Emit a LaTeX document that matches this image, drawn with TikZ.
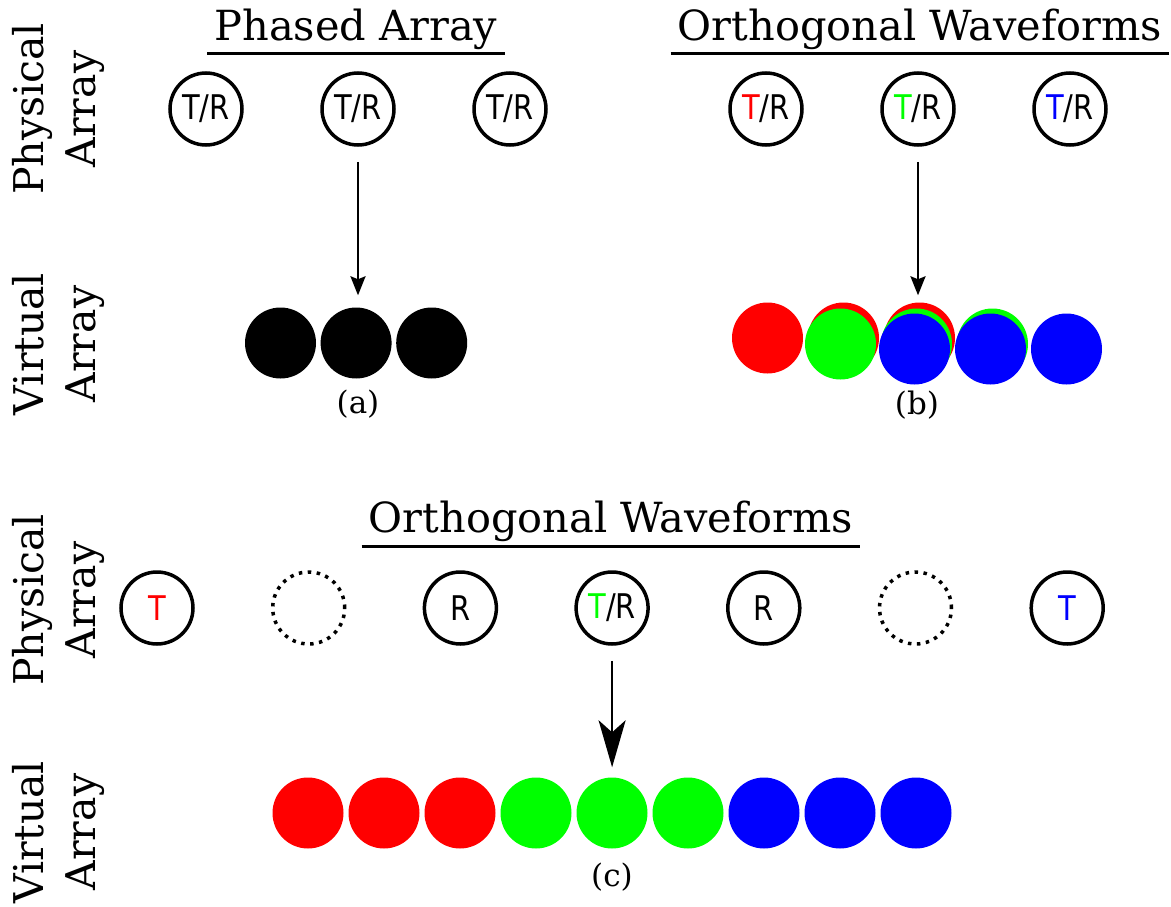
\documentclass[tikz,border=0pt]{standalone}
\usepackage{fontspec}
\setmainfont{DejaVu Serif}
\newfontfamily\elemfont[FakeStretch=0.85]{DejaVu Sans}
\usepackage{tikz}
\usetikzlibrary{arrows.meta, positioning, calc}

\definecolor{vred}{RGB}{255,0,0}
\definecolor{vgreen}{RGB}{0,255,0}
\definecolor{vblue}{RGB}{0,0,255}

\begin{document}
\begin{tikzpicture}[
  x=1pt, y=-1pt,
  elem/.style   = {draw, circle, line width=3.5pt, minimum size=72pt, inner sep=0pt,
                   font=\elemfont\fontsize{34}{34}\selectfont},
  ghost/.style  = {elem, dash pattern=on 3.5pt off 5.5pt},
  virt/.style   = {circle, minimum size=71pt, inner sep=0pt},
  title/.style  = {anchor=base, inner xsep=7pt, font=\fontsize{41.5}{48}\selectfont},
  side/.style   = {rotate=90, align=center, font=\fontsize{41}{52}\selectfont},
  capt/.style   = {font=\fontsize{31}{31}\selectfont},
  rule/.style   = {line width=3pt},
  map/.style    = {line width=2.5pt, -{Stealth[length=19pt, width=15pt, inset=3pt]}},
  bigmap/.style = {line width=2.7pt, -{Stealth[length=47pt, width=27pt, inset=12pt]}},
]
  \useasboundingbox (0,0) rectangle (1171,907);

  % Row labels
  \node[side] (phys1) at (58,109) {Physical\\Array};
  \node[side] (virt1) at (58,344) {Virtual\\Array};
  \node[side] (phys2) at (58,600) {Physical\\Array};
  \node[side] (virt2) at (58,832) {Virtual\\Array};

  % (a) Phased array
  \node[title] (pat) at (356,41) {Phased Array};
  \draw[rule] ([yshift=-13pt]pat.base west) -- ([yshift=-13pt]pat.base east);
  \foreach \i in {1,2,3}
    \node[elem] (pa\i) at ({206+152*(\i-1)},109) {T/R};
  \foreach \i in {1,2,3}
    \node[virt, fill=black] (pv\i) at ({280.5+75.6*(\i-1)},343) {};
  \draw[map] ([yshift=-15pt]pa2.south) -- ([yshift=12pt]pa2.south |- pv2.north);
  \node[capt] (pacap) at (358,404) {(a)};

  % (b) Orthogonal waveforms, filled array
  \node[title] (owt) at (920,41) {Orthogonal Waveforms};
  \draw[rule] ([yshift=-13pt]owt.base west) -- ([yshift=-13pt]owt.base east);
  \node[elem] (ow1) at (766,109)  {\textcolor{vred}{T}/R};
  \node[elem] (ow2) at (918,109)  {\textcolor{vgreen}{T}/R};
  \node[elem] (ow3) at (1070,109) {\textcolor{vblue}{T}/R};
  \foreach \i in {1,2,3}
    \node[virt, fill=vred]   (ovr\i) at ({767.5+76*(\i-1)},338) {};
  \foreach \i in {2,3,4}
    \node[virt, fill=vgreen] (ovg\i) at ({764.5+76*(\i-1)},344) {};
  \foreach \i in {3,4,5}
    \node[virt, fill=vblue]  (ovb\i) at ({762.5+76*(\i-1)},349) {};
  \draw[map] ([yshift=-15pt]ow2.south) -- ([yshift=7pt]ow2.south |- ovr3.north);
  \node[capt] (owcap) at (917,405) {(b)};

  % (c) Orthogonal waveforms, sparse array
  \node[title] (mot) at (611,532) {Orthogonal Waveforms};
  \draw[rule] ([yshift=-14pt]mot.base west) -- ([yshift=-14pt]mot.base east);
  \foreach \i/\lbl/\sty in {1/{\textcolor{vred}{T}}/elem, 2/{}/ghost, 3/R/elem,
                            4/{\textcolor{vgreen}{T}/R}/elem, 5/R/elem, 6/{}/ghost,
                            7/{\textcolor{vblue}{T}}/elem}
    \node[\sty] (el\i) at ({157+151.7*(\i-1)},608) {\lbl};
  \foreach \i/\col in {1/vred,2/vred,3/vred,4/vgreen,5/vgreen,6/vgreen,7/vblue,8/vblue,9/vblue}
    \node[virt, fill=\col] (vc\i) at ({308+76*(\i-1)},813) {};
  \draw[bigmap] ([yshift=-15pt]el4.south) -- ([yshift=10pt]el4.south |- vc5.north);
  \node[capt] (mocap) at (612,877) {(c)};
\end{tikzpicture}
\end{document}
